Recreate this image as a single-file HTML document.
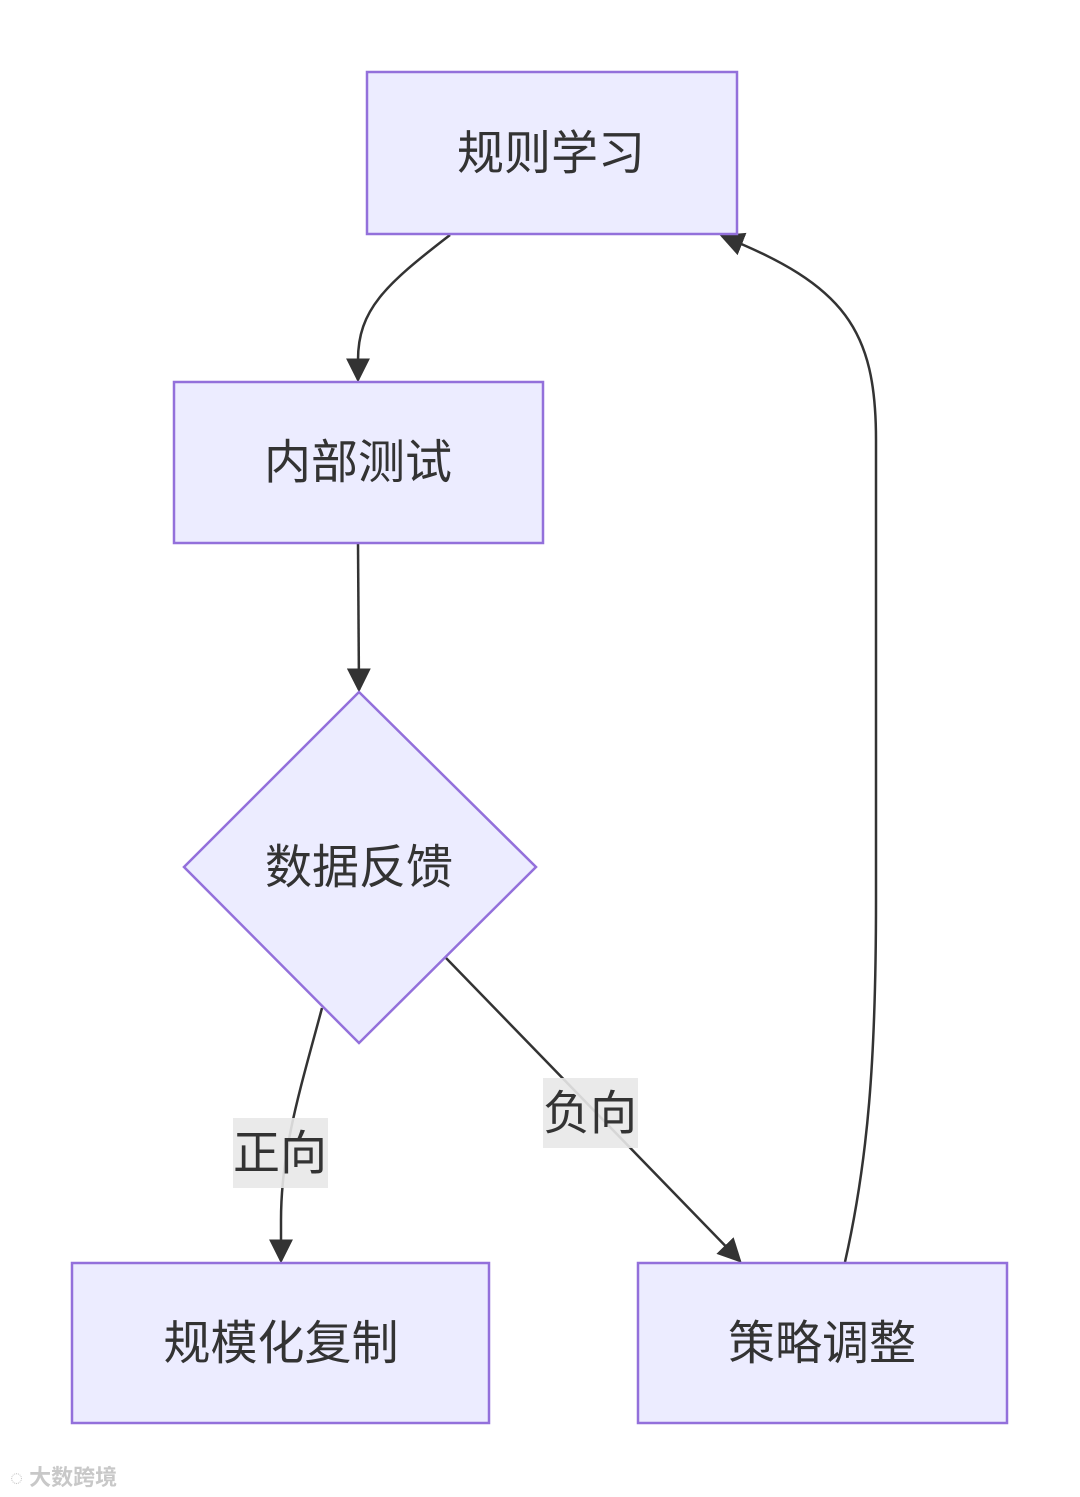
<!DOCTYPE html>
<html><head><meta charset="utf-8"><style>
html,body{margin:0;padding:0;background:#fff;}
svg{display:block;}
text{font-family:"Liberation Sans","Noto Sans CJK SC",sans-serif;fill:#333;}
</style></head><body>
<svg width="1080" height="1497" viewBox="0 0 1080 1497" xmlns="http://www.w3.org/2000/svg">
<defs>
<marker id="a2" viewBox="0 0 10 10" refX="9" refY="5" markerWidth="24" markerHeight="24" markerUnits="userSpaceOnUse" orient="auto">
<path d="M0,0 L10,5 L0,10 z" fill="#333"/>
</marker>
</defs>
<g fill="none" stroke="#333" stroke-width="2.5">
<path d="M450,235 C385,285 358,310 358,360 L358,380" marker-end="url(#a2)"/>
<path d="M358,543 L359,690" marker-end="url(#a2)"/>
<path d="M322,1008 C300,1090 281,1150 281,1220 L281,1261" marker-end="url(#a2)"/>
<path d="M446,958 L740,1261" marker-end="url(#a2)"/>
<path d="M845,1262 C868,1160 876,1060 876,900 L876,440 C876,330 845,285 722,236" marker-end="url(#a2)"/>
</g>
<g fill="#ECECFF" stroke="#9370DB" stroke-width="2.5">
<rect x="367" y="72" width="370" height="162"/>
<rect x="174" y="382" width="369" height="161"/>
<polygon points="359,692 536,867 359,1043 184,867"/>
<rect x="72" y="1263" width="417" height="160"/>
<rect x="638" y="1263" width="369" height="160"/>
</g>
<g font-size="47" text-anchor="middle" dominant-baseline="central">
<text x="551" y="153">规则学习</text>
<text x="358" y="462">内部测试</text>
<text x="359" y="867">数据反馈</text>
<text x="281" y="1343">规模化复制</text>
<text x="822" y="1343">策略调整</text>
</g>
<rect x="233" y="1118" width="95" height="70" fill="#e8e8e8" opacity="0.9"/>
<rect x="543" y="1078" width="95" height="70" fill="#e8e8e8" opacity="0.9"/>
<g font-size="47" text-anchor="middle" dominant-baseline="central">
<text x="280" y="1153">正向</text>
<text x="590" y="1113">负向</text>
</g>
<text x="10" y="1485" font-size="22" style="fill:#c8c8c8" font-weight="bold">◌ 大数跨境</text>
</svg>
</body></html>
